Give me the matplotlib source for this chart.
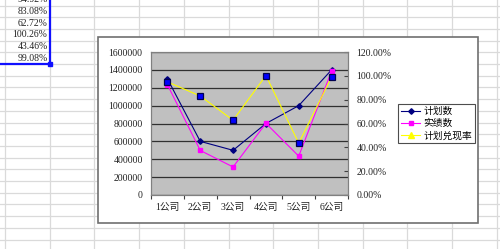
import matplotlib
matplotlib.use('Agg')
import matplotlib.pyplot as plt
from matplotlib.patches import Rectangle
from matplotlib.lines import Line2D
from matplotlib.ticker import FuncFormatter

plt.rcParams['font.family'] = ['Liberation Serif', 'Noto Sans CJK SC']

# chart data
companies = ['1公司', '2公司', '3公司', '4公司', '5公司', '6公司']
plan = [1300000, 600000, 500000, 800000, 1000000, 1400000]
actual = [1234000, 498500, 313600, 802100, 434600, 1387100]
rate = [94.92, 83.08, 62.72, 100.26, 43.46, 99.08]
series_names = ['计划数', '实绩数', '计划兑现率']

W, H = 500, 249
fig = plt.figure(figsize=(5, 2.49), dpi=100)


def box(x0, y0, x1, y1):
    # pixel box (top-left origin) -> figure fraction
    return [x0 / W, 1 - y1 / H, (x1 - x0) / W, (y1 - y0) / H]


# spreadsheet background
bg = fig.add_axes([0, 0, 1, 1])
bg.set_xlim(0, W)
bg.set_ylim(H, 0)
bg.axis('off')
for k in range(12):
    bg.axvline(5 + 44.7 * k, color='#dadada', lw=0.9, zorder=1)
for k in range(22):
    bg.axhline(5.5 + 11.7 * k, color='#dadada', lw=0.9, zorder=1)

# rate column in the sheet
for i, r in enumerate(rate):
    bg.text(47.5, 5.5 + 11.7 * (i - 0.5), f'{r:.2f}%', ha='right', va='center',
            fontsize=7, color='#222222', zorder=2)
bg.plot([49.5, 49.5], [0, 63.5], color='#1010ff', lw=1.6, zorder=3)
bg.plot([0, 49.5], [63.5, 63.5], color='#1010ff', lw=1.6, zorder=3)
bg.plot([49.5], [63.5], marker='s', ms=3, color='#1010ff', zorder=3)

# chart frame
bg.add_patch(Rectangle((98, 37), 380, 186, facecolor='white', edgecolor='#707070',
                       lw=1.2, zorder=4))

# main plot
ax = fig.add_axes(box(151, 52, 348, 195))
ax.set_facecolor('#c0c0c0')
x = [i + 0.5 for i in range(len(companies))]
ax.plot(x, plan, color='#000080', lw=0.8, marker='D', ms=2.8, zorder=3)
ax.plot(x, actual, color='#ff00ff', lw=0.8, marker='s', ms=3.2, zorder=3)
ax.set_xlim(0, 6)
ax.set_ylim(0, 1600000)
ax.set_yticks(range(0, 1600001, 200000))
ax.yaxis.set_major_formatter(FuncFormatter(lambda v, p: f'{int(v)}'))
ax.yaxis.grid(True, color='#303030', lw=0.9)
ax.set_axisbelow(True)
ax.set_xticks(range(7))
ax.set_xticklabels([])
ax.set_xticks(x, minor=True)
ax.set_xticklabels(companies, minor=True)
ax.tick_params(axis='x', which='major', direction='out', length=3, color='#404040')
ax.tick_params(axis='x', which='minor', length=0, pad=6, labelsize=7, labelcolor='#222222')
ax.tick_params(axis='y', length=0, pad=6, labelsize=7, labelcolor='#222222')
for s in ax.spines.values():
    s.set_color('#808080')

ax2 = ax.twinx()
ax2.plot(x, rate, color='#ffff00', lw=0.8, marker='s', ms=4.8,
         mfc='#0000ff', mec='#000050', mew=0.9, zorder=4)
ax2.set_ylim(0, 120)
ax2.set_yticks(range(0, 121, 20))
ax2.yaxis.set_major_formatter(FuncFormatter(lambda v, p: f'{v:.2f}%'))
ax2.tick_params(axis='y', direction='in', length=3, color='#404040', pad=6,
                labelsize=7, labelcolor='#222222')
for s in ax2.spines.values():
    s.set_color('#808080')

# legend
handles = [
    Line2D([], [], color='#000080', lw=0.8, marker='D', ms=2.8),
    Line2D([], [], color='#ff00ff', lw=0.8, marker='s', ms=3.2),
    Line2D([], [], color='#ffff00', lw=0.8, marker='^', ms=4),
]
leg = fig.legend(handles, series_names, loc='upper left',
                 bbox_to_anchor=(398 / W, 1 - 104 / H), fontsize=7,
                 frameon=True, fancybox=False, borderpad=0.3,
                 labelspacing=0.3, handlelength=2.0, handletextpad=0.3,
                 borderaxespad=0)
leg.get_frame().set_edgecolor('#202020')
leg.get_frame().set_linewidth(0.8)

fig.savefig('out.png', dpi=100)
